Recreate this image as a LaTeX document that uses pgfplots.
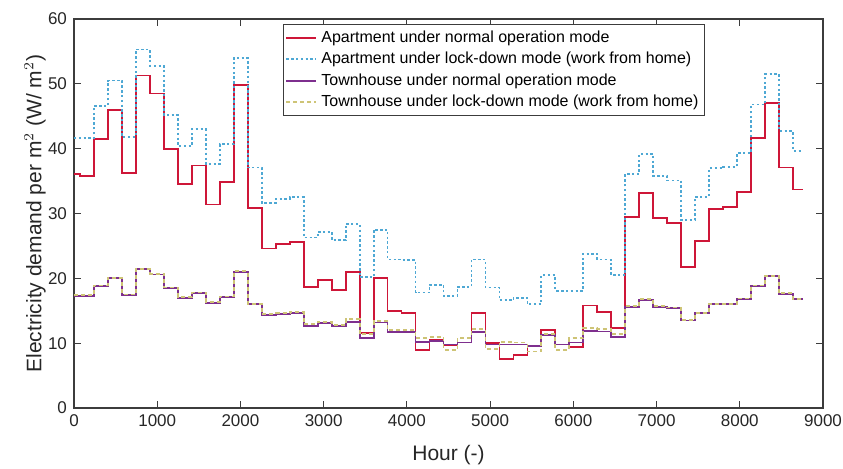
\documentclass[border=0pt]{standalone}
\usepackage{fontspec}
\setmainfont{Liberation Sans}
\usepackage{pgfplots}
\usepackage{pgfplotstable}
\pgfplotsset{compat=1.18}
\definecolor{cred}{RGB}{206,22,56}
\definecolor{cblue}{RGB}{78,168,212}
\definecolor{cpurple}{RGB}{126,47,142}
\definecolor{colive}{RGB}{206,196,118}
\definecolor{caxis}{RGB}{60,60,60}
\pgfplotstableread{
x an al tn tl
0 36.1 41.6 17.3 17.4
72 35.8 41.6 17.3 17.4
240 41.5 46.6 18.8 18.9
408 46.0 50.5 20.0 20.1
576 36.2 41.8 17.4 17.5
744 51.3 55.3 21.4 21.5
912 48.5 52.8 20.6 20.7
1080 40.0 45.2 18.5 18.6
1248 34.6 40.4 17.0 17.1
1416 37.4 43.0 17.7 17.8
1584 31.4 37.6 16.2 16.4
1752 34.9 40.7 17.1 17.2
1920 49.8 54.0 21.0 21.1
2088 30.8 37.1 16.0 16.1
2256 24.6 31.6 14.35 14.5
2424 25.3 32.2 14.5 14.6
2592 25.6 32.5 14.6 14.8
2760 18.7 26.3 12.7 12.95
2928 19.75 27.2 13.1 13.3
3096 18.2 25.9 12.7 12.8
3264 21.0 28.4 13.3 13.7
3432 11.6 20.2 10.85 11.4
3600 20.0 27.5 13.2 13.4
3768 14.9 22.9 11.7 12.0
3936 14.6 22.8 11.7 12.0
4104 8.95 17.8 10.2 10.8
4272 10.5 19.0 10.3 10.9
4440 9.7 17.3 9.8 8.9
4608 10.1 18.7 10.1 10.85
4776 14.7 22.9 11.7 12.2
4944 10.0 18.6 9.8 9.1
5112 7.6 16.6 9.8 10.2
5280 8.2 17.0 9.8 10.1
5448 9.6 16.0 9.6 8.7
5616 12.0 20.5 11.2 11.4
5784 9.8 18.1 9.8 9.0
5952 9.4 18.1 10.1 10.8
6120 15.8 23.8 11.9 12.4
6288 14.8 22.9 11.8 12.2
6456 12.3 20.5 11.0 11.4
6624 29.5 36.1 15.6 15.7
6792 33.1 39.2 16.7 16.8
6960 29.3 35.8 15.6 15.7
7128 28.5 35.1 15.4 15.5
7296 21.7 29.0 13.5 13.6
7464 25.8 32.6 14.6 14.7
7632 30.7 37.0 16.0 16.1
7800 31.0 37.2 16.0 16.1
7968 33.3 39.3 16.8 16.9
8136 41.7 46.8 18.8 18.9
8304 47.0 51.5 20.3 20.4
8472 37.1 42.7 17.6 17.7
8640 33.7 39.7 16.8 16.8
8760 33.7 39.7 16.8 16.8
}\datatab
\begin{document}
\begin{tikzpicture}
\begin{axis}[
  scale only axis,
  width=374.5pt, height=194.5pt,
  xmin=0, xmax=9000, ymin=0, ymax=60,
  xtick={0,1000,...,9000}, ytick={0,10,...,60},
  scaled x ticks=false,
  /pgf/number format/assume math mode=true,
  /pgf/number format/1000 sep={},
  tick align=inside, tick pos=both,
  major tick length=3.5pt,
  axis line style={caxis, line width=0.6pt},
  every tick/.style={caxis, line width=0.6pt},
  tick label style={font=\fontsize{8.5}{10}\selectfont, text=black!85},
  xlabel={Hour (-)},
  ylabel={Electricity demand per m$^{2}$ (W/ m$^{2}$)},
  label style={font=\fontsize{10.5}{12}\selectfont, text=black!85},
  xlabel style={at={(axis description cs:0.5,-0.121)}, anchor=center},
  ylabel style={at={(axis description cs:-0.052,0.5)}, anchor=center},
  legend style={at={(0.279,0.987)}, anchor=north west,
    font=\fontsize{8}{9.6}\selectfont, draw=caxis, line width=0.6pt,
    inner sep=1pt, row sep=-0.6pt},
  legend cell align=left,
  legend image code/.code={\draw[#1] (0pt,0pt) -- (15pt,0pt);},
]
\addplot[const plot, cred, line width=0.9pt] table[x=x,y=an]{\datatab};
\addlegendentry{Apartment under normal operation mode}
\addplot[const plot, cblue, line width=0.9pt, dash pattern=on 1.2pt off 1.2pt] table[x=x,y=al]{\datatab};
\addlegendentry{Apartment under lock-down mode (work from home)}
\addplot[const plot, cpurple, line width=0.9pt] table[x=x,y=tn]{\datatab};
\addlegendentry{Townhouse under normal operation mode}
\addplot[const plot, colive, line width=0.9pt, dash pattern=on 2pt off 1.5pt] table[x=x,y=tl]{\datatab};
\addlegendentry{Townhouse under lock-down mode (work from home)}
\coordinate (O) at (rel axis cs:0,0);
\coordinate (T) at (rel axis cs:1,1);
\end{axis}
\pgfresetboundingbox
\path ([shift={(-37pt,-30.5pt)}]O) rectangle ([shift={(10pt,9.5pt)}]T);
\end{tikzpicture}
\end{document}
